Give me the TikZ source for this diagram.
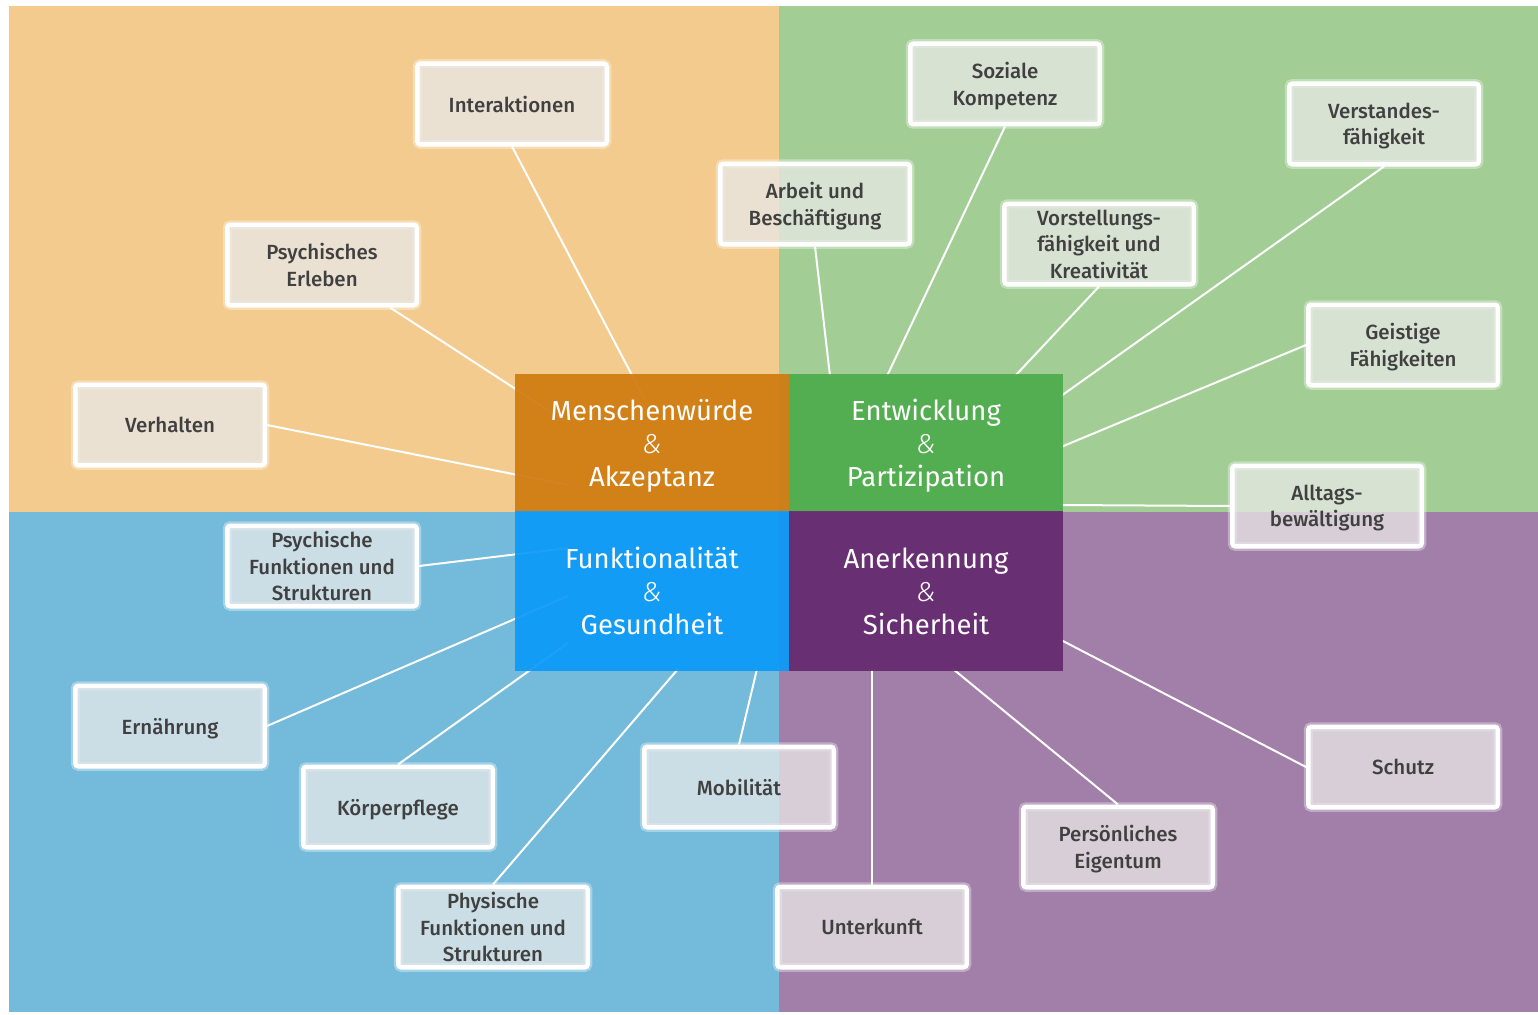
\documentclass[tikz,border=0pt]{standalone}
\usepackage{fontspec}
\setmainfont{Fira Sans}
\newfontfamily\labfont{Fira Sans}[UprightFont={* Medium}]
\newfontfamily\ampfont{Fira Sans}[UprightFont={* Light Italic}]
\usetikzlibrary{calc}

\definecolor{bgorange}{HTML}{F4CB8E}
\definecolor{bggreen}{HTML}{A2CE95}
\definecolor{bgblue}{HTML}{74BADB}
\definecolor{bgpurple}{HTML}{A27FA9}
\definecolor{corange}{HTML}{D07B10}
\definecolor{cgreen}{HTML}{4EAC4C}
\definecolor{cblue}{HTML}{0C9AF8}
\definecolor{cpurple}{HTML}{65296F}
\definecolor{boxgray}{HTML}{E9E9E9}
\definecolor{labtext}{HTML}{404040}

\pgfdeclarelayer{quads}
\pgfdeclarelayer{links}
\pgfsetlayers{quads,links,main}

\tikzset{
  topic/.style={draw=white, line width=4.5pt, rounded corners=3pt,
    fill=boxgray, fill opacity=0.75, text opacity=1, text=labtext,
    font=\labfont\fontsize{20.5}{26.5}\selectfont, align=center,
    minimum width=189.5pt, minimum height=80.5pt, inner sep=0pt,
    text depth=-2pt,
    preaction={draw=white, draw opacity=0.35, line width=9pt}},
  core/.style={minimum width=274pt, inner sep=0pt, text=white,
    align=center, font=\fontsize{27.5}{33}\selectfont,
    fill opacity=0.93, text opacity=1},
  upper/.style={core, minimum height=137pt, text depth=-2.5pt},
  lower/.style={core, minimum height=160pt, text depth=-4pt},
  link/.style={draw=white, line width=2pt}
}

\newcommand{\amp}{{\ampfont\&}}

\begin{document}
\begin{tikzpicture}[x=1pt,y=-1pt]
\useasboundingbox (0,0) rectangle (1538,1014);

% quadrant background
\begin{pgfonlayer}{quads}
\fill[bgorange] (9,6) rectangle (779,512);
\fill[bggreen] (779,6) rectangle (1538,512);
\fill[bgblue] (9,512) rectangle (779,1012);
\fill[bgpurple] (779,512) rectangle (1538,1012);
\end{pgfonlayer}

% core blocks
\node[upper, fill=corange] (wuerde) at (652,442.5)
  {Menschenwürde\\\amp\\Akzeptanz};
\node[upper, fill=cgreen] (entw) at (926,442.5)
  {Entwicklung\\\amp\\Partizipation};
\node[lower, fill=cblue] (funk) at (652,591)
  {Funktionalität\\\amp\\Gesundheit};
\node[lower, fill=cpurple] (anerk) at (926,591)
  {Anerkennung\\\amp\\Sicherheit};

% topic boxes
\node[topic] (inter) at (512,104) {Interaktionen};
\node[topic] (perl) at (322,265) {Psychisches\\Erleben};
\node[topic] (verh) at (170,425) {Verhalten};
\node[topic] (arb) at (815,204) {Arbeit und\\Beschäftigung};
\node[topic] (soz) at (1005,84) {Soziale\\Kompetenz};
\node[topic] (verst) at (1384,124) {Verstandes-\\fähigkeit};
\node[topic] (vorst) at (1099,244) {Vorstellungs-\\fähigkeit und\\Kreativität};
\node[topic] (geist) at (1403,345) {Geistige\\Fähigkeiten};
\node[topic] (allt) at (1327,506) {Alltags-\\bewältigung};
\node[topic] (pfun) at (322,566) {Psychische\\Funktionen und\\Strukturen};
\node[topic] (ern) at (170,726) {Ernährung};
\node[topic] (koerp) at (398,807) {Körperpflege};
\node[topic] (mob) at (739,787) {Mobilität};
\node[topic] (phys) at (493,927) {Physische\\Funktionen und\\Strukturen};
\node[topic] (unterk) at (872,927) {Unterkunft};
\node[topic] (eig) at (1118,847) {Persönliches\\Eigentum};
\node[topic] (schutz) at (1403,767) {Schutz};

% connector ends on the core blocks
\coordinate (e-inter) at (645,400);
\coordinate (e-perl) at (568,423);
\coordinate (e-verh) at (568,485);
\coordinate (e-arb) at (830,376);
\coordinate (e-soz) at (887,376);
\coordinate (e-vorst) at (1015,376);
\coordinate (e-verst) at (1061,396);
\coordinate (e-geist) at (1061,447);
\coordinate (e-allt) at (1061,505);
\coordinate (e-pfun) at (568,548);
\coordinate (e-ern) at (568,596);
\coordinate (e-koerp) at (568,643);
\coordinate (e-phys) at (678,669);
\coordinate (e-mob) at (757,669);
\coordinate (e-unterk) at (872,669);
\coordinate (e-eig) at (953,669);
\coordinate (e-schutz) at (1061,640);

% connectors, kept under the blocks
\begin{pgfonlayer}{links}
\draw[link] (inter.south) -- (e-inter);
\draw[link] (perl.-32) -- (e-perl);
\draw[link] (verh.east) -- (e-verh);
\draw[link] (arb.south) -- (e-arb);
\draw[link] (soz.south) -- (e-soz);
\draw[link] (vorst.south) -- (e-vorst);
\draw[link] (verst.south) -- (e-verst);
\draw[link] (geist.west) -- (e-geist);
\draw[link] (allt.west) -- (e-allt);
\draw[link] (pfun.east) -- (e-pfun);
\draw[link] (ern.east) -- (e-ern);
\draw[link] (koerp.north) -- (e-koerp);
\draw[link] (phys.north) -- (e-phys);
\draw[link] (mob.north) -- (e-mob);
\draw[link] (unterk.north) -- (e-unterk);
\draw[link] (eig.north) -- (e-eig);
\draw[link] (schutz.west) -- (e-schutz);
\end{pgfonlayer}
\end{tikzpicture}
\end{document}
